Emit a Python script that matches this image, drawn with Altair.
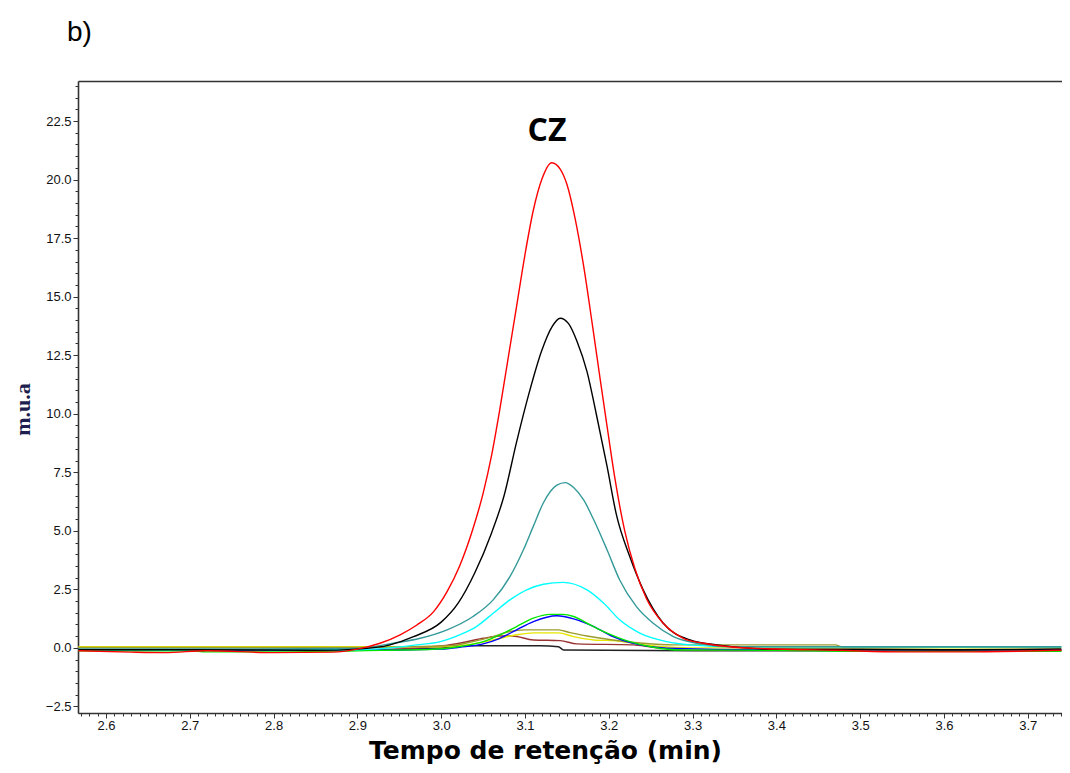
import altair as alt
import pandas as pd

# ---------------- data ----------------
# retention time (min) and signal (m.u.a) for each trace
red_t = [2.567, 2.63, 2.67, 2.72, 2.80, 2.87, 2.90, 2.927, 2.951, 2.971, 2.991, 3.007, 3.022, 3.038, 3.050,
         3.060, 3.070, 3.080, 3.090, 3.100, 3.110, 3.120, 3.132, 3.142, 3.150, 3.160, 3.170, 3.180, 3.190,
         3.199, 3.207, 3.219, 3.231, 3.245, 3.265, 3.289, 3.313, 3.341, 3.40, 3.47, 3.55, 3.62, 3.74]
red_v = [-0.12, -0.18, -0.2, -0.12, -0.2, -0.18, -0.05, 0.2, 0.56, 0.98, 1.55, 2.4, 3.5, 5.1, 6.6,
         8.2, 10.2, 12.4, 14.6, 16.8, 18.7, 20.0, 20.72, 20.45, 19.8, 18.3, 16.3, 13.9, 11.4,
         9.2, 7.3, 5.0, 3.4, 2.1, 1.05, 0.41, 0.2, 0.06, -0.05, -0.1, -0.17, -0.17, -0.1]

blk_t = [2.567, 2.70, 2.85, 2.90, 2.939, 2.967, 3.000, 3.020, 3.040, 3.060, 3.075, 3.090, 3.105,
         3.120, 3.132, 3.142, 3.152, 3.162, 3.174, 3.185, 3.198, 3.209, 3.225, 3.241, 3.265, 3.297,
         3.329, 3.40, 3.50, 3.60, 3.74]
blk_v = [-0.08, -0.08, -0.1, -0.05, 0.13, 0.48, 1.1, 1.9, 3.2, 4.9, 6.5, 8.8, 10.9,
         12.7, 13.7, 14.08, 13.85, 13.1, 11.8, 10.0, 7.74, 5.7, 3.9, 2.48, 1.05, 0.34,
         0.13, -0.06, -0.06, -0.08, -0.05]

teal_t = [2.567, 2.75, 2.90, 2.943, 2.975, 3.007, 3.038, 3.062, 3.082, 3.098, 3.110, 3.122, 3.138,
          3.148, 3.158, 3.170, 3.182, 3.198, 3.213, 3.233, 3.253, 3.277, 3.305, 3.35, 3.50, 3.74]
teal_v = [-0.05, -0.05, -0.02, 0.2, 0.41, 0.77, 1.34, 2.05, 3.04, 4.18, 5.2, 6.2, 6.95,
          7.06, 6.85, 6.32, 5.47, 4.18, 2.90, 1.76, 1.05, 0.48, 0.2, 0.05, 0.05, 0.05]

cyan_t = [2.567, 2.90, 2.971, 2.999, 3.022, 3.042, 3.062, 3.082, 3.102, 3.122, 3.145, 3.174,
          3.194, 3.213, 3.237, 3.269, 3.297, 3.35, 3.74]
cyan_v = [-0.08, -0.08, 0.13, 0.27, 0.56, 0.91, 1.48, 2.05, 2.48, 2.72, 2.80, 2.48,
          1.91, 1.20, 0.63, 0.27, 0.13, 0.05, 0.05]

green_t = [2.567, 2.70, 2.72, 2.80, 2.90, 2.99, 3.022, 3.050, 3.070, 3.090, 3.110, 3.130, 3.145,
           3.158, 3.178, 3.198, 3.221, 3.253, 3.285, 3.40, 3.50, 3.74]
green_v = [-0.12, -0.12, -0.17, -0.17, -0.12, -0.06, 0.06, 0.27, 0.56, 0.91, 1.27, 1.43, 1.43,
           1.34, 0.98, 0.63, 0.31, 0.03, -0.09, -0.1, -0.15, -0.15]

blue_t = [2.567, 2.90, 3.00, 3.022, 3.050, 3.070, 3.090, 3.110, 3.138, 3.158, 3.182, 3.205,
          3.237, 3.269, 3.40, 3.74]
blue_v = [-0.1, -0.1, -0.05, 0.03, 0.17, 0.41, 0.77, 1.12, 1.37, 1.24, 0.91, 0.48,
          0.13, -0.01, -0.08, -0.08]

olive_t = [2.567, 2.90, 3.010, 3.038, 3.062, 3.082, 3.100, 3.140, 3.154, 3.174, 3.205, 3.241,
           3.277, 3.30, 3.47, 3.48, 3.74]
olive_v = [0.02, 0.02, 0.09, 0.27, 0.48, 0.70, 0.77, 0.77, 0.65, 0.51, 0.34, 0.2,
           0.13, 0.13, 0.13, 0.03, 0.03]

yellow_t = [2.567, 2.90, 3.00, 3.030, 3.062, 3.090, 3.110, 3.140, 3.158, 3.182, 3.209, 3.229,
            3.261, 3.30, 3.74]
yellow_v = [0.05, 0.05, 0.05, 0.13, 0.34, 0.56, 0.64, 0.64, 0.48, 0.34, 0.30, 0.2,
            0.06, 0.0, 0.0]

brown_t = [2.567, 2.90, 3.002, 3.026, 3.050, 3.070, 3.085, 3.110, 3.142, 3.162, 3.229, 3.253,
           3.30, 3.74]
brown_v = [-0.1, -0.1, 0.09, 0.23, 0.41, 0.51, 0.51, 0.34, 0.31, 0.17, 0.13, 0.03,
           -0.1, -0.1]

low_t = [2.567, 2.90, 3.00, 3.022, 3.118, 3.140, 3.146, 3.30, 3.74]
low_v = [-0.08, -0.08, 0.0, 0.09, 0.09, 0.05, -0.09, -0.12, -0.12]

series_names = ["s10", "s9", "s8", "s7", "s6", "s5", "s4", "s3", "s2", "s1"]
series_colors = ["#222222", "#993333", "#E6E600", "#9C9C2E", "#0000FF", "#00E600",
                 "#00FFFF", "#339999", "#000000", "#FF0000"]
series_t = [low_t, brown_t, yellow_t, olive_t, blue_t, green_t, cyan_t, teal_t, blk_t, red_t]
series_v = [low_v, brown_v, yellow_v, olive_v, blue_v, green_v, cyan_v, teal_v, blk_v, red_v]

ann_t = [3.1263]
ann_v = [22.07]
ann_label = ["CZ"]

x_domain = [2.5666, 3.7408]
y_domain = [-2.78, 24.21]

# ---------------- build tables ----------------
rows = []
for name, ts, vs in zip(series_names, series_t, series_v):
    for t, v in zip(ts, vs):
        rows.append({"serie": name, "t": t, "v": v})
df = pd.DataFrame(rows)
ann = pd.DataFrame({"t": ann_t, "v": ann_v, "label": ann_label})

x_ticks = [round(2.57 + i * 0.01, 2) for i in range(118)]
y_ticks = [round(-2.5 + i * 0.5, 1) for i in range(54)]

x_scale = alt.Scale(domain=x_domain, nice=False, zero=False)
y_scale = alt.Scale(domain=y_domain, nice=False, zero=False)

AX = "#333333"

x_axis = alt.Axis(
    orient="bottom", values=x_ticks, grid=False,
    labelExpr="abs(round(datum.value*100) % 10) == 0 ? format(datum.value, '.1f') : ''",
    labelOverlap=False, labelFlush=False,
    tickSize={"condition": {"test": "abs(round(datum.value*100) % 10) == 0", "value": 5}, "value": 3},
    tickColor=AX, tickWidth=1, domainColor=AX, domainWidth=1.6,
    labelFont="Liberation Sans", labelFontSize=13, labelColor="#111111", labelPadding=1,
    title="Tempo de retenção (min)", titleFont="DejaVu Sans", titleFontSize=25,
    titleFontWeight="bold", titleColor="#000000", titleX=467, titleY=45,
    titleAlign="center", titleBaseline="alphabetic",
)

y_axis = alt.Axis(
    orient="left", values=y_ticks, grid=False,
    labelExpr="abs(round(datum.value*2) % 5) == 0 ? format(datum.value, '.1f') : ''",
    labelOverlap=False, labelFlush=False,
    tickSize={"condition": {"test": "abs(round(datum.value*2) % 5) == 0", "value": 5}, "value": 3},
    tickColor=AX, tickWidth=1, domainColor=AX, domainWidth=1.6,
    labelFont="Liberation Sans", labelFontSize=13, labelColor="#111111", labelPadding=2,
    title="m.u.a", titleFont="Liberation Serif", titleFontSize=22, titleFontWeight="bold",
    titleColor="#1F1F4F", titleX=-56, titleY=328, titleAngle=270,
    titleAlign="center", titleBaseline="middle",
)

top_axis = alt.Axis(orient="top", labels=False, ticks=False, title=None, grid=False,
                    domainColor=AX, domainWidth=1.6)

lines = alt.Chart(df).mark_line(strokeWidth=1.4, interpolate="monotone", clip=True).encode(
    x=alt.X("t:Q", scale=x_scale, axis=x_axis),
    y=alt.Y("v:Q", scale=y_scale, axis=y_axis),
    color=alt.Color("serie:N", scale=alt.Scale(domain=series_names, range=series_colors),
                    legend=None, sort=series_names),
)

label = alt.Chart(ann).mark_text(font="Open Sans", fontSize=32, fontWeight="bold",
                                 align="center", baseline="middle", color="#000000").encode(
    x=alt.X("t:Q", scale=x_scale, axis=top_axis),
    y=alt.Y("v:Q", scale=y_scale, axis=None),
    text="label:N",
)

chart = alt.layer(lines, label).resolve_axis(x="independent", y="independent").properties(
    width=984, height=632,
    autosize=alt.AutoSizeParams(type="none"),
    padding={"left": 70, "top": 73, "right": 0, "bottom": 52},
    title=alt.TitleParams(text="b)", anchor="start", frame="group", fontSize=28,
                          font="Liberation Sans", fontWeight="normal", color="#000000",
                          dx=-11, offset=11, baseline="alphabetic"),
).configure_view(stroke=None).configure(background="white")

chart.save("out.html", embed_options={"renderer": "svg", "actions": False})
